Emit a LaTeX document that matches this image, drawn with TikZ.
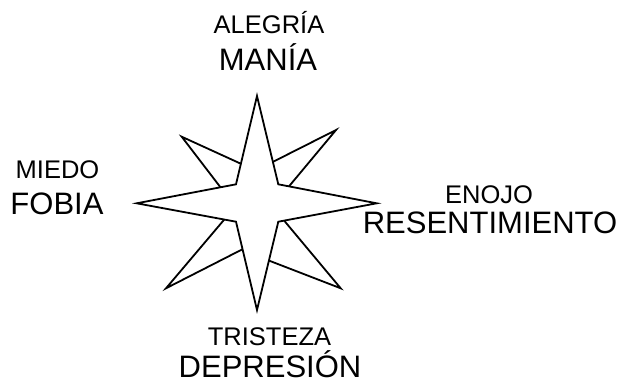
\documentclass[tikz,border=0pt]{standalone}
\usepackage{fontspec}
\setmainfont{Liberation Sans}

\begin{document}
\begin{tikzpicture}[
  x=1pt, y=-1pt,
  emo/.style={anchor=base, inner sep=0pt, text depth=0pt, font=\fontsize{25.5}{30}\selectfont},
  trait/.style={anchor=base, inner sep=0pt, text depth=0pt, font=\fontsize{31}{36}\selectfont},
  ray/.style={draw=black, fill=white, line width=1.8pt, line join=miter}
]
\useasboundingbox (0,0) rectangle (621,381);

% short diagonal rays, behind the main star
\draw[ray] (254.6,170.0) -- (181.7,136.7) -- (229.6,199.2) -- cycle;
\draw[ray] (257.6,169.6) -- (336.0,130.0) -- (277.6,200.0) -- cycle;
\draw[ray] (237.6,203.8) -- (166.0,288.3) -- (259.8,240.4) -- cycle;
\draw[ray] (271.1,205.0) -- (340.7,288.3) -- (254.5,255.0) -- cycle;

% main four-point star
\coordinate (n) at (257,96);
\coordinate (e) at (376.7,203.3);
\coordinate (s) at (257,310);
\coordinate (w) at (136.7,203.3);
\draw[ray] (n) -- (278.3,184.3) -- (e) -- (278.3,221.7) -- (s)
  -- (236,221.7) -- (w) -- (236,184.3) -- cycle;

\node[emo]   (alegria) at (269,33.3)   {ALEGRÍA};
\node[trait] (mania)   at (268,70)     {MANÍA};
\node[emo]   (miedo)   at (57.5,178.3) {MIEDO};
\node[trait] (fobia)   at (57,214)     {FOBIA};
\node[emo]   (enojo)   at (489,203.3)  {ENOJO};
\node[trait] (resent)  at (490,233.3)  {RESENTIMIENTO};
\node[emo]   (tristeza) at (269.5,345.5) {TRISTEZA};
\node[trait] (depre)   at (270,377)    {DEPRESIÓN};
\end{tikzpicture}
\end{document}
